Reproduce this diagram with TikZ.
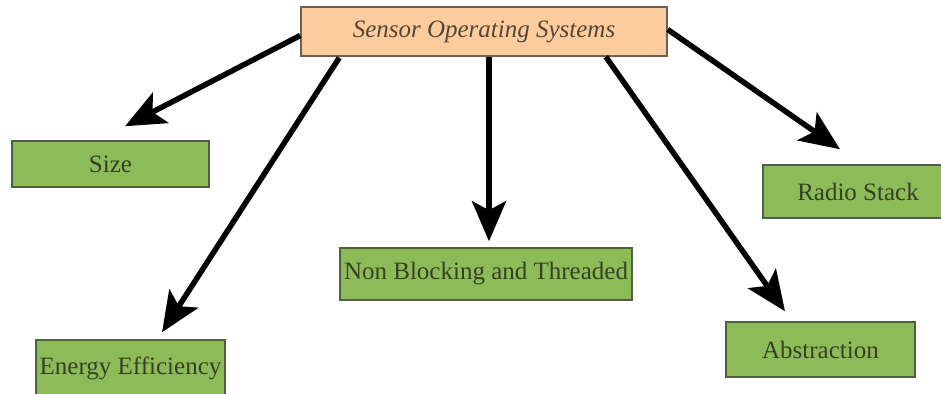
\documentclass[tikz,border=0pt]{standalone}
\usepackage{fontspec}
\setmainfont{Liberation Serif}
\usetikzlibrary{arrows.meta,calc}
\definecolor{peach}{RGB}{252,204,156}
\definecolor{peachline}{RGB}{110,95,80}
\definecolor{leaf}{RGB}{141,187,88}
\definecolor{leafline}{RGB}{80,95,65}
\definecolor{leaftext}{RGB}{52,66,36}
\definecolor{peachtext}{RGB}{85,70,55}
\tikzset{
  rootbox/.style={draw=peachline, line width=1.5pt, fill=peach, text=peachtext,
    font=\fontsize{25}{29}\selectfont\itshape, inner sep=0pt},
  leafbox/.style={draw=leafline, line width=1.5pt, fill=leaf, text=leaftext,
    font=\fontsize{25}{29}\selectfont, inner sep=0pt},
  link/.style={line width=5.5pt, -{Stealth[length=40pt,width=34pt,inset=9pt]}}
}
\begin{document}
\begin{tikzpicture}[x=1pt,y=-1pt]
  \useasboundingbox (0,0) rectangle (941,393);
  \clip (0,0) rectangle (941,393);
  \fill[white] (0,0) rectangle (941,393);

  \node[rootbox, minimum width=366pt, minimum height=49pt] (root) at (484,31.5) {Sensor Operating Systems};
  \node[leafbox, minimum width=197pt, minimum height=46pt] (size) at (110.5,164) {Size};
  \node[leafbox, minimum width=189pt, minimum height=56pt] (energy) at (130.5,368) {Energy Efficiency};
  \node[leafbox, minimum width=292pt, minimum height=52pt] (nonblock) at (486,274) {Non Blocking and Threaded};
  \node[leafbox, minimum width=190pt, minimum height=53pt] (radio) at (858,191.5) {Radio Stack};
  \node[leafbox, minimum width=189pt, minimum height=55pt] (abstr) at (820.5,349.5) {Abstraction};

  \draw[link] ($(root.west)+(0,4)$) -- ($(size.north)+(14.5,-14)$);
  \draw[link] ($(root.south west)+(39,1)$) -- ($(energy.north)+(31.5,-7)$);
  \draw[link] ($(root.south)+(5,0)$) -- ($(nonblock.north)+(3,-6)$);
  \draw[link] ($(root.south east)+(-62,0)$) -- ($(abstr.north)+(-35.5,-10)$);
  \draw[link] ($(root.east)+(0,-2)$) -- ($(radio.north)+(-18,-15)$);
\end{tikzpicture}
\end{document}
